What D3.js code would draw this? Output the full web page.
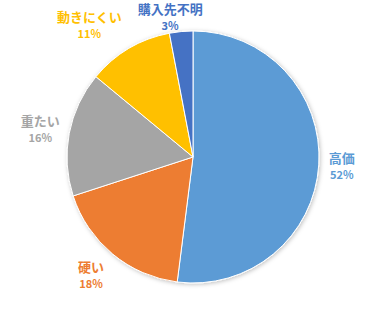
<!DOCTYPE html>
<html><head><meta charset="utf-8">
<script src="https://cdn.jsdelivr.net/npm/d3@7"></script>
<style>html,body{margin:0;padding:0;background:#fff;}svg{display:block;}</style>
</head><body>
<svg id="c" width="377" height="309"></svg>
<script>
const categories = ["高価", "硬い", "重たい", "動きにくい", "購入先不明"];
const values = [52, 18, 16, 11, 3];
const pctLabels = ["52%", "18%", "16%", "11%", "3%"];
const colors = ["#5B9BD5", "#ED7D31", "#A5A5A5", "#FFC000", "#4472C4"];

const W = 377, H = 309, cx = 193, cy = 157, R = 126;
const nudges = [[0,0],[-7,2],[0,1],[-18,-2],[-7,11]];

const svg = d3.select("#c");
const defs = svg.append("defs");
const f = defs.append("filter").attr("id","sh").attr("x","-20%").attr("y","-20%").attr("width","140%").attr("height","140%");
f.append("feDropShadow").attr("dx",1).attr("dy",1).attr("stdDeviation",2).attr("flood-color","#000").attr("flood-opacity",0.25);

const pie = d3.pie().sort(null).value(d => d);
const arcs = pie(values);
const arc = d3.arc().innerRadius(0).outerRadius(R);

const g = svg.append("g").attr("transform", `translate(${cx},${cy})`);
g.append("g").attr("filter","url(#sh)").selectAll("path").data(arcs).enter().append("path")
  .attr("d", arc).attr("fill", (d,i) => colors[i]).attr("stroke","#fff").attr("stroke-width",1);

const font = "'Noto Sans CJK JP', 'Noto Sans', sans-serif";
const lab = g.selectAll("g.lab").data(arcs).enter().append("g").attr("class","lab")
  .each(function(d,i){
    const a = (d.startAngle + d.endAngle)/2;
    const sel = d3.select(this);
    const t1 = sel.append("text").text(categories[i]).attr("text-anchor","middle")
      .attr("font-family", font).attr("font-weight","bold").attr("font-size",13).attr("fill",colors[i]);
    const t2 = sel.append("text").text(pctLabels[i]).attr("text-anchor","middle")
      .attr("font-family", font).attr("font-weight","bold").attr("font-size",11).attr("fill",colors[i]);
    const w = t1.node().getBBox().width, h = 30, r0 = 136;
    const x = r0*Math.sin(a) + Math.sin(a)*w/2 + nudges[i][0];
    const y = -r0*Math.cos(a) - Math.cos(a)*h/2 + nudges[i][1];
    t1.attr("x", x).attr("y", y - 3.5);
    t2.attr("x", x).attr("y", y + 12.5);
  });
</script>
</body></html>
